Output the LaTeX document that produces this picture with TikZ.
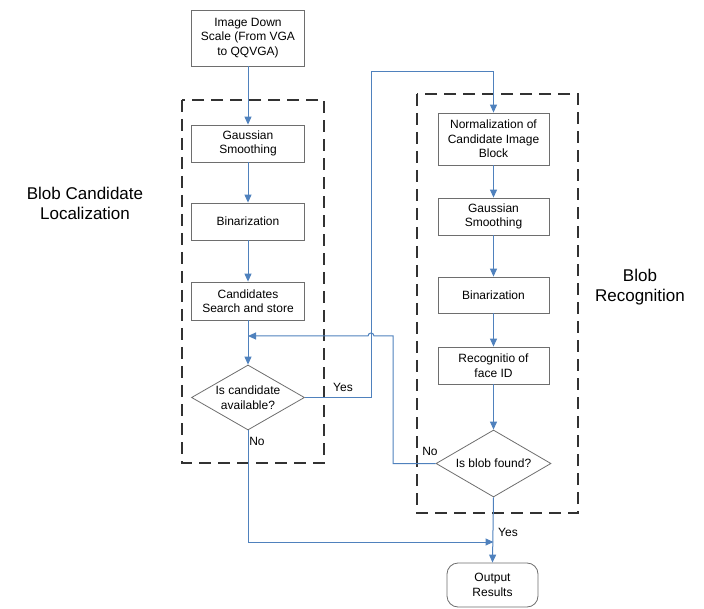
\documentclass[tikz,border=0pt]{standalone}
\usepackage{fontspec}
\setmainfont{Liberation Sans}
\usetikzlibrary{arrows.meta,shapes.geometric}
\definecolor{flowblue}{RGB}{79,129,189}
\definecolor{boxgray}{RGB}{110,110,110}
\definecolor{dashgray}{RGB}{50,50,50}
\tikzset{
  procbox/.style={draw=boxgray, line width=0.8pt, fill=white, minimum width=113pt, align=center, inner sep=1pt, font=\fontsize{12}{14.5}\selectfont},
  decbox/.style={draw=boxgray, line width=0.8pt, fill=white, diamond, inner sep=0pt},
  dectext/.style={align=center, font=\fontsize{12}{14.5}\selectfont},
  flow/.style={draw=flowblue, line width=1pt, -{Triangle[length=8pt,width=7pt]}},
  region/.style={draw=dashgray, line width=2pt, dash pattern=on 12pt off 7pt},
  lbl/.style={font=\fontsize{12}{14.5}\selectfont, inner sep=0pt},
  biglbl/.style={font=\fontsize{17}{20}\selectfont, align=center, inner sep=0pt},
}
\begin{document}
\begin{tikzpicture}[x=1pt,y=-1pt]
\useasboundingbox (0,0) rectangle (704,609);
% regions
\draw[region] (182,100) rectangle (324,463);
\draw[region] (417,94) rectangle (578,513);
\node[biglbl] (lblA) at (85,203) {Blob Candidate\\Localization};
\node[biglbl] (lblB) at (640,287) {Blob\\Recognition};
% left column
\node[procbox, minimum height=56pt] (top) at (248,38) {Image Down\\Scale (From VGA\\to QQVGA)};
\node[procbox, minimum height=37pt] (g1) at (248,143.5) {Gaussian\\Smoothing};
\node[procbox, minimum height=37pt] (b1) at (248,221.5) {Binarization};
\node[procbox, minimum height=38pt] (c1) at (248,301) {Candidates\\Search and store};
\node[decbox, minimum width=113pt, minimum height=65pt] (d1) at (248,397.5) {};
\node[dectext] (d1t) at (d1) {Is candidate\\available?};
% right column
\node[procbox, minimum width=111pt, minimum height=52pt] (n2) at (493.5,139) {Normalization of\\Candidate Image\\Block};
\node[procbox, minimum width=111pt, minimum height=37pt] (g2) at (493.5,216.5) {Gaussian\\Smoothing};
\node[procbox, minimum width=111pt, minimum height=36pt] (b2) at (493.5,295) {Binarization};
\node[procbox, minimum width=111pt, minimum height=37pt] (r2) at (493.5,365.5) {Recognitio of\\face ID};
\node[decbox, minimum width=115pt, minimum height=67pt] (d2) at (493.5,463.5) {};
\node[dectext] (d2t) at (d2) {Is blob found?};
\node[procbox, minimum width=91pt, minimum height=44pt, rounded corners=11pt] (out) at (492.5,585) {Output\\Results};
% coordinates
\coordinate (j1) at (248,336);
\coordinate (j2) at (493.5,542);
% connectors
\draw[flow] (top.south) -- (g1.north);
\draw[flow] (g1.south) -- (b1.north);
\draw[flow] (b1.south) -- (c1.north);
\draw[flow] (c1.south) -- (d1.north);
\draw[flow] (d1.east) -- (371,397.5) -- (371,72) -- (493.5,72) -- (n2.north);
\draw[flow] (n2.south) -- (g2.north);
\draw[flow] (g2.south) -- (b2.north);
\draw[flow] (b2.south) -- (r2.north);
\draw[flow] (r2.south) -- (d2.north);
\draw[flow] (d2.west) -- (393,463.5) -- (393,336) -- (374,336) arc[start angle=0,end angle=180,radius=3pt] -- (j1);
\draw[flow] (d1.south) -- (248,542) -- (j2);
\draw[flow] (d2.south) -- (out.north);
% labels
\node[lbl] (yes1) at (343,387) {Yes};
\node[lbl] (no1) at (257,441) {No};
\node[lbl] (no2) at (430,451) {No};
\node[lbl] (yes2) at (508,532) {Yes};
\end{tikzpicture}
\end{document}
